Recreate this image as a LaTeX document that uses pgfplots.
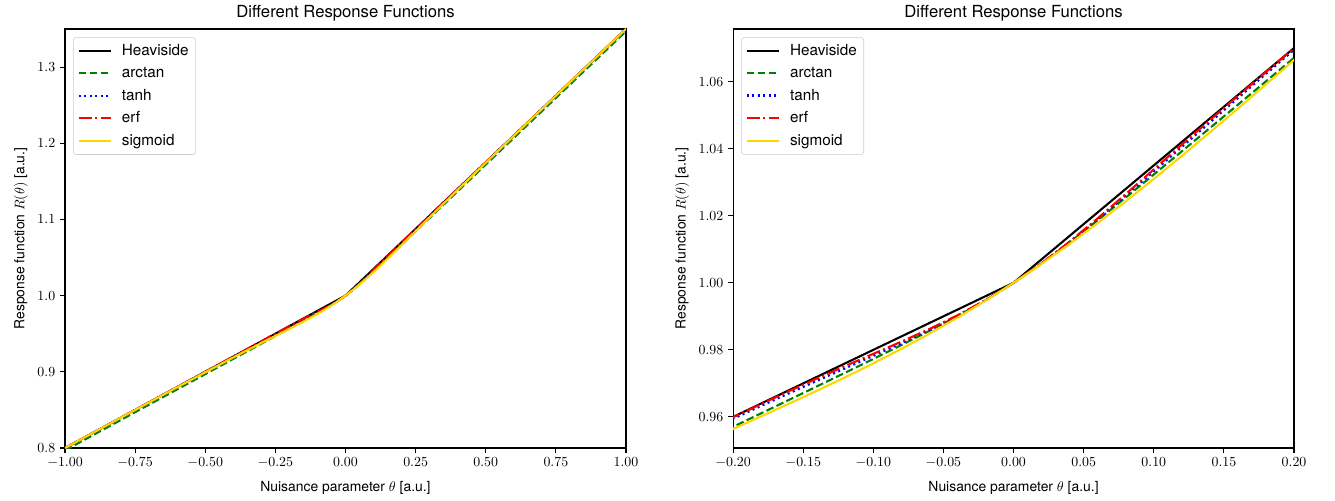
\documentclass[border=0pt]{standalone}
\usepackage{pgfplots}
\pgfplotsset{compat=1.18}
\usepackage{pgfplotstable}
\usepackage{fontspec}
\setmainfont{TeX Gyre Heros}
\definecolor{mplgreen}{rgb}{0,0.5,0}
\definecolor{mplgold}{rgb}{1,0.843,0}
\definecolor{legendgray}{rgb}{0.8,0.8,0.8}

\pgfplotstableread{
x y
-1 0.8
0 1
1 1.35
}\heaviside

\pgfplotstableread{
x y
-1.00 0.79696
-0.80 0.83697
-0.60 0.87697
-0.40 0.91699
-0.30 0.93700
-0.20 0.95706
-0.18 0.96108
-0.16 0.96511
-0.14 0.96915
-0.12 0.97321
-0.10 0.97729
-0.08 0.98143
-0.06 0.98567
-0.04 0.99007
-0.02 0.99479
0.00 1.00000
0.02 1.00579
0.04 1.01207
0.06 1.01867
0.08 1.02543
0.10 1.03229
0.12 1.03921
0.14 1.04615
0.16 1.05311
0.18 1.06008
0.20 1.06706
0.30 1.10200
0.40 1.13699
0.60 1.20697
0.80 1.27697
1.00 1.34697
}\arctandata

\pgfplotstableread{
x y
-1.00 0.80000
-0.80 0.84000
-0.60 0.88000
-0.40 0.91998
-0.30 0.93989
-0.20 0.95946
-0.18 0.96328
-0.16 0.96706
-0.14 0.97080
-0.12 0.97450
-0.10 0.97821
-0.08 0.98198
-0.06 0.98592
-0.04 0.99014
-0.02 0.99480
0.00 1.00000
0.02 1.00580
0.04 1.01214
0.06 1.01892
0.08 1.02598
0.10 1.03321
0.12 1.04050
0.14 1.04780
0.16 1.05506
0.18 1.06228
0.20 1.06946
0.30 1.10489
0.40 1.13998
0.60 1.21000
0.80 1.28000
1.00 1.35000
}\tanhdata

\pgfplotstableread{
x y
-1.00 0.80000
-0.80 0.84000
-0.60 0.88000
-0.40 0.92000
-0.30 0.94000
-0.20 0.95993
-0.18 0.96385
-0.16 0.96772
-0.14 0.97150
-0.12 0.97519
-0.10 0.97882
-0.08 0.98245
-0.06 0.98622
-0.04 0.99029
-0.02 0.99483
0.00 1.00000
0.02 1.00583
0.04 1.01229
0.06 1.01922
0.08 1.02645
0.10 1.03382
0.12 1.04119
0.14 1.04850
0.16 1.05572
0.18 1.06285
0.20 1.06993
0.30 1.10500
0.40 1.14000
0.60 1.21000
0.80 1.28000
1.00 1.35000
}\erfdata

\pgfplotstableread{
x y
-1.00 0.79999
-0.80 0.83996
-0.60 0.87978
-0.40 0.91892
-0.30 0.93787
-0.20 0.95642
-0.18 0.96017
-0.16 0.96397
-0.14 0.96785
-0.12 0.97183
-0.10 0.97597
-0.08 0.98028
-0.06 0.98481
-0.04 0.98959
-0.02 0.99465
0.00 1.00000
0.02 1.00565
0.04 1.01159
0.06 1.01781
0.08 1.02428
0.10 1.03097
0.12 1.03783
0.14 1.04485
0.16 1.05197
0.18 1.05917
0.20 1.06642
0.30 1.10287
0.40 1.13892
0.60 1.20978
0.80 1.27996
1.00 1.35000
}\sigmoiddata

\pgfplotsset{
  panelstyle/.style={
    scale only axis,
    width=403.9pt, height=301.7pt,
    axis line style={line width=0.8pt},
    tick align=outside,
    xtick pos=left, ytick pos=left,
    major tick length=3.5pt,
    every tick/.style={black, line width=0.8pt},
    title style={font=\fontsize{12}{14}\selectfont, yshift=-4pt},
    label style={font=\fontsize{10}{12}\selectfont},
    xlabel style={yshift=-3pt},
    tick label style={font=\fontsize{10}{12}\selectfont},
    xlabel={Nuisance parameter $\theta$ [a.u.]},
    ylabel={Response function $R(\theta)$ [a.u.]},
    title={Different Response Functions},
    legend cell align=left,
    legend style={at={(0,1)}, anchor=north west, xshift=5.8pt, yshift=-6pt,
      draw=legendgray, rounded corners=2pt, fill=white, fill opacity=0.8, text opacity=1,
      font=\fontsize{11}{13}\selectfont, row sep=2.8pt, column sep=5pt,
      inner xsep=3pt, inner ysep=3pt},
    legend image code/.code={\draw[#1] (0pt,0pt) -- (23.5pt,0pt);},
    every axis plot/.append style={line width=1.5pt, line join=round},
  },
  styleHV/.style={black, solid},
  styleAT/.style={mplgreen, dash pattern=on 5.55pt off 2.4pt},
  styleTH/.style={blue, dash pattern=on 1.5pt off 2.475pt},
  styleEF/.style={red, dash pattern=on 9.6pt off 2.4pt on 1.5pt off 2.4pt},
  styleSG/.style={mplgold, solid},
}

\begin{document}
\begin{tikzpicture}
\useasboundingbox (0,0) rectangle (961.2pt,360pt);
\begin{axis}[panelstyle,
  at={(46.8pt,37.44pt)}, anchor=south west,
  xmin=-1, xmax=1, ymin=0.8, ymax=1.35,
  xtick={-1,-0.75,-0.5,-0.25,0,0.25,0.5,0.75,1},
  ytick={0.8,0.9,1.0,1.1,1.2,1.3},
  xticklabel style={/pgf/number format/.cd, fixed, fixed zerofill, precision=2},
  yticklabel style={/pgf/number format/.cd, fixed, fixed zerofill, precision=1},
]
\addplot[styleHV] table[x=x,y=y] {\heaviside};
\addlegendentry{Heaviside}
\addplot[styleAT] table[x=x,y=y] {\arctandata};
\addlegendentry{arctan}
\addplot[styleTH] table[x=x,y=y] {\tanhdata};
\addlegendentry{tanh}
\addplot[styleEF] table[x=x,y=y] {\erfdata};
\addlegendentry{erf}
\addplot[styleSG] table[x=x,y=y] {\sigmoiddata};
\addlegendentry{sigmoid}
\end{axis}
\begin{axis}[panelstyle,
  at={(527.8pt,37.44pt)}, anchor=south west,
  xmin=-0.2, xmax=0.2, ymin=0.95074, ymax=1.07568,
  xtick={-0.2,-0.15,-0.1,-0.05,0,0.05,0.1,0.15,0.2},
  ytick={0.96,0.98,1.0,1.02,1.04,1.06},
  xticklabel style={/pgf/number format/.cd, fixed, fixed zerofill, precision=2},
  yticklabel style={/pgf/number format/.cd, fixed, fixed zerofill, precision=2},
  scaled ticks=false,
]
\addplot[styleHV] table[x=x,y=y] {\heaviside};
\addlegendentry{Heaviside}
\addplot[styleAT] table[x=x,y=y] {\arctandata};
\addlegendentry{arctan}
\addplot[styleTH] table[x=x,y=y] {\tanhdata};
\addlegendentry{tanh}
\addplot[styleEF] table[x=x,y=y] {\erfdata};
\addlegendentry{erf}
\addplot[styleSG] table[x=x,y=y] {\sigmoiddata};
\addlegendentry{sigmoid}
\end{axis}
\end{tikzpicture}
\end{document}
